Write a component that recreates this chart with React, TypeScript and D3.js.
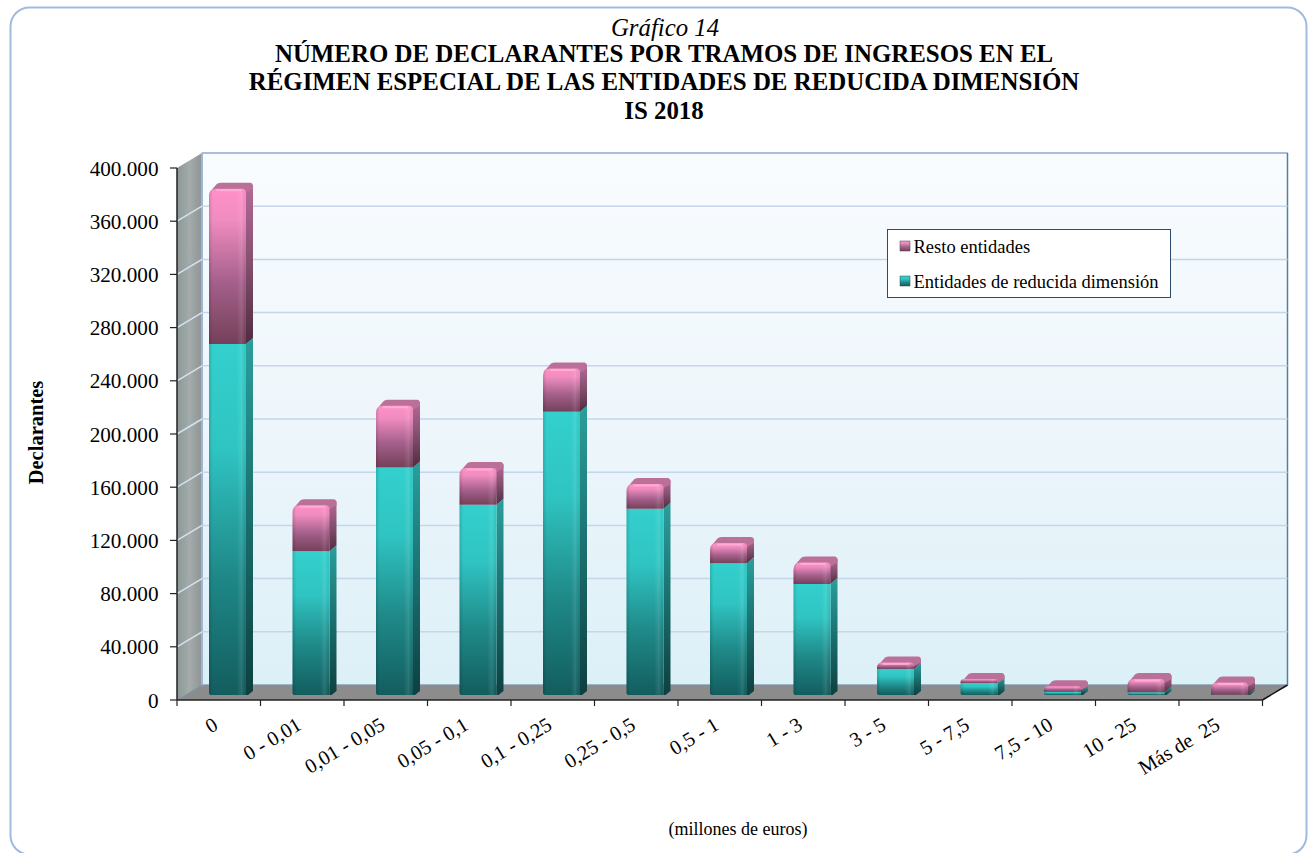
import React from "react";
import * as d3 from "d3";

const categories = ["0","0 - 0,01","0,01 - 0,05","0,05 - 0,1","0,1 - 0,25","0,25 - 0,5","0,5 - 1","1 - 3","3 - 5","5 - 7,5","7,5 - 10","10 - 25","Más de  25"];
const reducida = [264000,108000,171000,143000,213000,140000,99000,83500,19500,9000,2500,2000,200];
const resto = [116700,34700,46500,27700,32500,18700,15200,16200,5000,3000,4000,10000,9200];
const yTicks = [0,40000,80000,120000,160000,200000,240000,280000,320000,360000,400000];
const tickLabels = ["0","40.000","80.000","120.000","160.000","200.000","240.000","280.000","320.000","360.000","400.000"];
const titleLines = ["NÚMERO DE DECLARANTES POR TRAMOS DE INGRESOS EN EL","RÉGIMEN ESPECIAL DE LAS ENTIDADES DE REDUCIDA DIMENSIÓN","IS 2018"];
const legendItems = [{label:"Resto entidades",key:"pink"},{label:"Entidades de reducida dimensión",key:"teal"}];

const FONT = "'Liberation Serif','Times New Roman',serif";
const x0 = 177, x1 = 1262.5, yBase = 700, yTop = 168, dx = 25, dy = -15;

const x = d3.scaleBand<string>().domain(categories).range([x0, x1]);
const y = d3.scaleLinear().domain([0, 400000]).range([yBase, yTop]);

function Grad({id,stops,horizontal}:{id:string;stops:[number,string][];horizontal?:boolean}) {
  return <linearGradient id={id} x1="0" y1="0" x2={horizontal?1:0} y2={horizontal?0:1}>
    {stops.map(([o,c],i)=><stop key={i} offset={o} stopColor={c}/>)}
  </linearGradient>;
}

function Segment({bx,w,yT,yB,kind,rounded}:{bx:number;w:number;yT:number;yB:number;kind:string;rounded:boolean}) {
  const sd = 7, sh = -6;
  const h = yB - yT;
  const rL = rounded ? Math.min(7, h*0.8) : 0;
  const rR = rounded ? Math.min(4, h*0.6) : 0;
  const botR = rounded ? 0 : 2;
  const front = `M${bx},${yB-botR} L${bx},${yT+rL} Q${bx},${yT} ${bx+rL},${yT} L${bx+w-rR},${yT} Q${bx+w},${yT} ${bx+w},${yT+rR} L${bx+w},${yB} L${bx+botR},${yB} Q${bx},${yB} ${bx},${yB-botR}Z`;
  const side = rounded
    ? `M${bx+w-1},${yT+1} L${bx+w+sd},${yT+sh+2} L${bx+w+sd},${yB+sh} L${bx+w},${yB}Z`
    : `M${bx+w},${yT} L${bx+w+sd},${yT+sh} L${bx+w+sd},${yB+sh+2} L${bx+w+2},${yB} L${bx+w},${yB}Z`;
  const top = `M${bx+1},${yT+3} L${bx+sd+1},${yT+sh+1} Q${bx+sd+3},${yT+sh} ${bx+sd+5},${yT+sh} L${bx+w+sd-3},${yT+sh} Q${bx+w+sd},${yT+sh} ${bx+w+sd},${yT+sh+4} L${bx+w+sd},${yT+sh+6} L${bx+w},${yT+4} L${bx+w-3},${yT+1} L${bx+5},${yT+1} Z`;
  return <g>
    <path d={side} fill={`url(#${kind}Side)`}/>
    {rounded && <path d={top} fill="#bb7099"/>}
    <path d={front} fill={`url(#${kind}Front)`}/>
    <path d={front} fill="url(#sheen)"/>
    {rounded && h > 6 && <line x1={bx+rL} x2={bx+w-rR-1} y1={yT+1.5} y2={yT+1.5} stroke="#ffb4d8" strokeOpacity={0.8} strokeWidth={2}/>}
  </g>;
}

export default function App() {
  const bw = 37;
  return (
    <svg width={1308} height={853} style={{position:"absolute",left:0,top:0,background:"#fff",fontFamily:FONT}}>
      <defs>
        <Grad id="wall" stops={[[0,"#f9fcff"],[0.5,"#eef6fb"],[1,"#dcf0f7"]]}/>
        <Grad id="leftWall" horizontal stops={[[0,"#8c9896"],[0.5,"#a3abab"],[1,"#8f9494"]]}/>
        <Grad id="pinkFront" stops={[[0,"#ff90c8"],[0.2,"#f08cc0"],[0.6,"#a5608b"],[1,"#744059"]]}/>
        <Grad id="pinkSide" stops={[[0,"#b56a96"],[0.5,"#834f6e"],[1,"#4f2c40"]]}/>
        <Grad id="tealFront" stops={[[0,"#33d0cd"],[0.3,"#2fc4c2"],[0.65,"#1f8a89"],[1,"#135d5e"]]}/>
        <Grad id="tealSide" stops={[[0,"#2a9f9c"],[0.5,"#1a6f6e"],[1,"#0e3f40"]]}/>
        <linearGradient id="sheen" x1="0" y1="0" x2="1" y2="0">
          <stop offset={0} stopColor="#000" stopOpacity={0.14}/>
          <stop offset={0.1} stopColor="#000" stopOpacity={0}/>
          <stop offset={0.75} stopColor="#fff" stopOpacity={0}/>
          <stop offset={0.88} stopColor="#fff" stopOpacity={0.1}/>
          <stop offset={1} stopColor="#000" stopOpacity={0.02}/>
        </linearGradient>
      </defs>

      <rect x={10.5} y={7.5} width={1296} height={847} rx={19} ry={19} fill="#fff" stroke="#9dbbe0" strokeWidth={2}/>

      <text x={665} y={35.5} textAnchor="middle" fontStyle="italic" fontSize={24.8}>Gráfico 14</text>
      {titleLines.map((t,i)=>(
        <text key={t} x={664} y={61.5+i*28.8} textAnchor="middle" fontWeight="bold" fontSize={24.9}>{t}</text>
      ))}

      {/* walls */}
      <polygon points={`${x0},${yTop} ${x0+dx},${yTop+dy} ${x0+dx},${yBase+dy} ${x0},${yBase}`} fill="url(#leftWall)"/>
      <rect x={x0+dx} y={yTop+dy} width={x1-x0} height={yBase-yTop} fill="url(#wall)" stroke="#9db6d6" strokeWidth={1}/>
      <polygon points={`${x0},${yBase} ${x0+dx},${yBase+dy} ${x1+dx},${yBase+dy} ${x1},${yBase}`} fill="#8c8c8c"/>
      <polyline points={`${x0},${yBase} ${x0+dx},${yBase+dy} ${x1+dx},${yBase+dy}`} fill="none" stroke="#7a94ae" strokeWidth={1}/>
      <line x1={x0+dx} x2={x0+dx} y1={yTop+dy} y2={yBase+dy} stroke="#9db6d6" strokeWidth={2}/>
      <line x1={x0+dx} x2={x1+dx} y1={yTop+dy} y2={yTop+dy} stroke="#9db6d6" strokeWidth={1.5}/>
      <polyline points={`${x1+dx},${yBase+dy} ${x1},${yBase}`} fill="none" stroke="#111" strokeWidth={1.5}/>
      <line x1={x1+dx} x2={x1+dx} y1={yTop+dy} y2={yBase+dy} stroke="#4f7fa8" strokeWidth={1.5}/>

      {/* gridlines */}
      {yTicks.slice(1,-1).map(t=>(
        <g key={t}>
          <line x1={x0+dx} x2={x1+dx} y1={y(t)+dy} y2={y(t)+dy} stroke="#c4d6ea" strokeWidth={1.5}/>
          <line x1={x0} x2={x0+dx} y1={y(t)} y2={y(t)+dy} stroke="#d5e2ef" strokeWidth={1.5}/>
        </g>
      ))}

      {/* axes */}
      <line x1={x0} x2={x0} y1={yTop} y2={yBase} stroke="#222" strokeWidth={1.5}/>
      <line x1={x0} x2={x1} y1={yBase} y2={yBase} stroke="#222" strokeWidth={1.5}/>
      {yTicks.map((t,i)=>(
        <g key={t}>
          <line x1={x0-7} x2={x0} y1={y(t)} y2={y(t)} stroke="#222" strokeWidth={1.2}/>
          <text x={158.5} y={y(t)+7.5} textAnchor="end" fontSize={21.2}>{tickLabels[i]}</text>
        </g>
      ))}
      {[...categories.map(c=>x(c)!), x1].map((p,i)=>(
        <line key={i} x1={p} x2={p} y1={yBase} y2={yBase+6} stroke="#222" strokeWidth={1.2}/>
      ))}
      {categories.map(c=>{
        const cx = x(c)! + x.bandwidth()/2 + 0.5;
        return <text key={c} transform={`translate(${cx},${728.5}) rotate(-31)`} textAnchor="end" fontSize={20.5} style={{whiteSpace:"pre"}}>{c}</text>;
      })}

      {/* bars */}
      {categories.map((c,i)=>{
        const bx = x(c)! + 32;
        const off = -5;
        const a = y(reducida[i])+off, b = y(reducida[i]+resto[i])+off, base = y(0)+off;
        return <g key={c}>
          <Segment bx={bx} w={bw} yT={a} yB={base} kind="teal" rounded={false}/>
          <Segment bx={bx} w={bw} yT={b} yB={a} kind="pink" rounded={true}/>
        </g>;
      })}

      {/* legend */}
      <rect x={887.5} y={229.5} width={283} height={68} fill="#fff" stroke="#2a4a70" strokeWidth={1}/>
      {legendItems.map((l,i)=>(
        <g key={l.key}>
          <rect x={900} y={241+i*35} width={10} height={10} fill={`url(#${l.key}Front)`} stroke="#444" strokeWidth={0.5}/>
          <text x={913.5} y={252.5+i*35} fontSize={18.5}>{l.label}</text>
        </g>
      ))}

      <text transform="translate(42.5,432.5) rotate(-90)" textAnchor="middle" fontWeight="bold" fontSize={20.5}>Declarantes</text>
      <text x={738} y={835} textAnchor="middle" fontSize={18}>(millones de euros)</text>
    </svg>
  );
}
